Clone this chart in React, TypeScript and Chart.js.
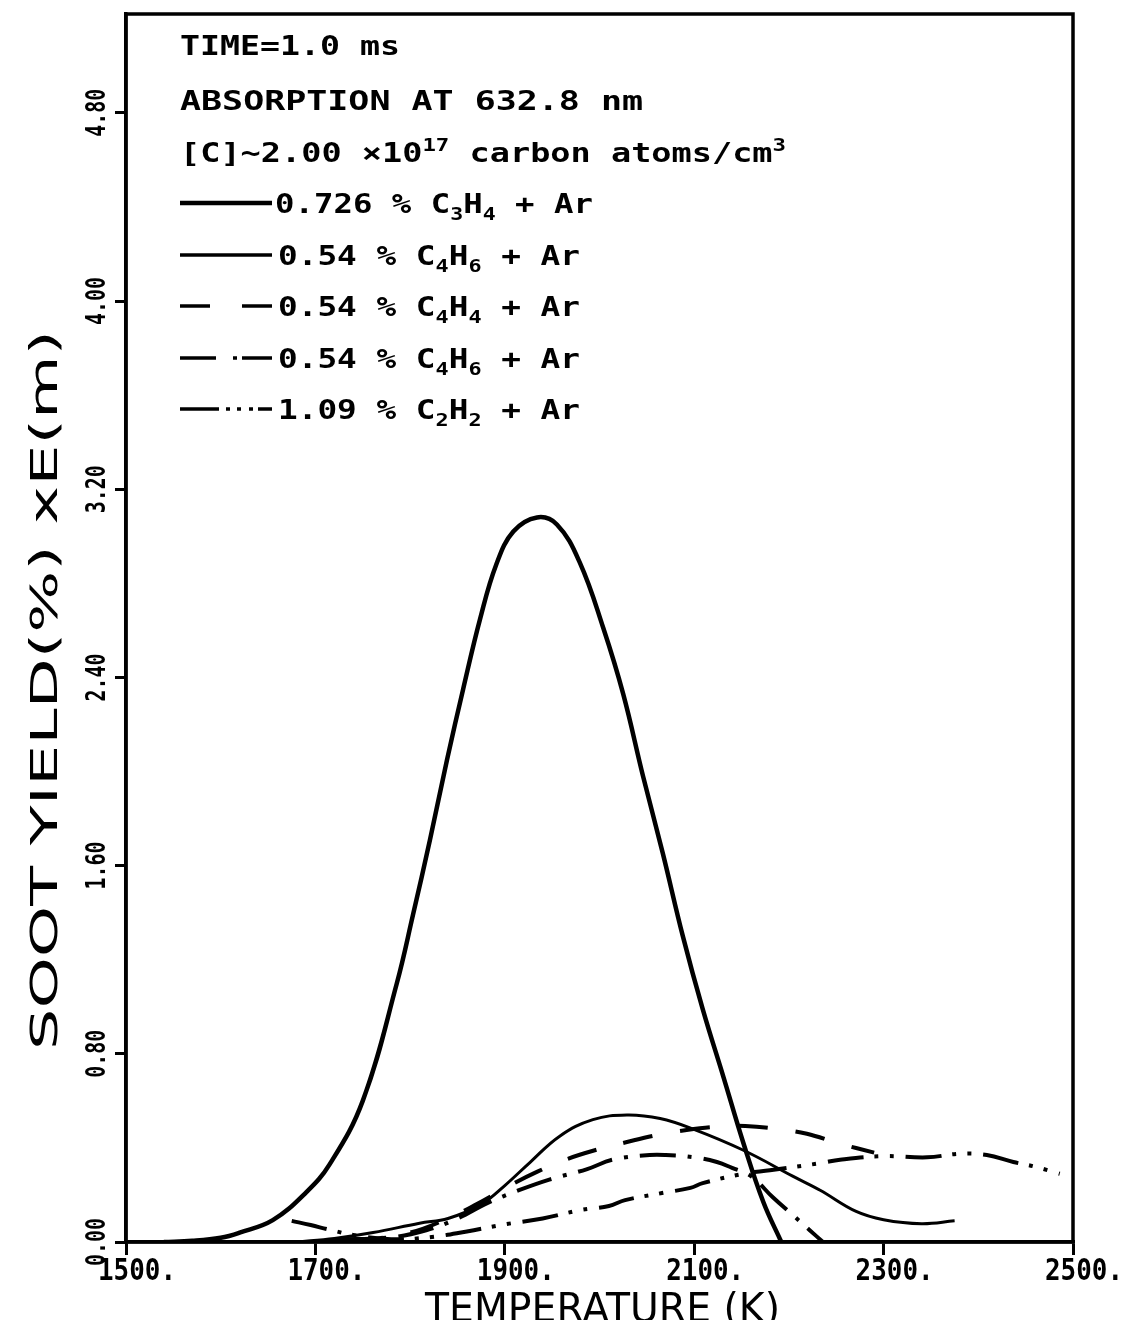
import React, { useEffect, useRef } from "react";
import { Chart, registerables } from "chart.js";

Chart.register(...registerables);

// ---------- axes ----------
const X_TICKS = [1500, 1700, 1900, 2100, 2300, 2500];
const X_TICK_LABELS = ["1500.", "1700.", "1900.", "2100.", "2300.", "2500."];
const Y_TICKS = [0, 0.8, 1.6, 2.4, 3.2, 4.0, 4.8];
const Y_TICK_LABELS = ["0.00", "0.80", "1.60", "2.40", "3.20", "4.00", "4.80"];
const X_MIN = 1500;
const X_MAX = 2500;
const Y_MIN = 0;
const Y_MAX = 5.22;
const X_TITLE = "TEMPERATURE (K)";
const Y_TITLE = "SOOT YIELD(%) xE(m)";

// ---------- legend text ----------
const HEADER_LINES = ["TIME=1.0 ms", "ABSORPTION AT 632.8 nm", "[C]~2.00 ×10^17 carbon atoms/cm^3"];
const SERIES_LABELS = [
  "0.726 % C_3H_4 + Ar",
  "0.54 % C_4H_6 + Ar",
  "0.54 % C_4H_4 + Ar",
  "0.54 % C_4H_6 + Ar",
  "1.09 % C_2H_2 + Ar",
];

// ---------- data (temperature K, soot yield) ----------
const C3H4_T = [1540, 1570, 1600, 1620, 1655, 1690, 1715, 1750, 1786, 1803, 1821, 1839, 1856, 1874, 1891, 1909, 1934, 1955, 1979, 2004, 2025, 2046, 2067, 2088, 2109, 2131, 2152, 2173, 2192];
const C3H4_V = [0, 0.005, 0.018, 0.04, 0.093, 0.21, 0.33, 0.60, 1.10, 1.39, 1.71, 2.05, 2.35, 2.65, 2.88, 3.02, 3.08, 3.05, 2.89, 2.61, 2.33, 1.98, 1.65, 1.30, 0.99, 0.70, 0.42, 0.17, 0];

const C4H6A_T = [1680, 1720, 1761, 1810, 1840, 1875, 1900, 1927, 1958, 1993, 2029, 2064, 2099, 2152, 2204, 2233, 2271, 2300, 2340, 2375];
const C4H6A_V = [0, 0.015, 0.04, 0.08, 0.10, 0.16, 0.24, 0.34, 0.45, 0.52, 0.54, 0.525, 0.48, 0.39, 0.28, 0.22, 0.13, 0.095, 0.078, 0.09];

const C4H4_T = [1740, 1800, 1840, 1870, 1910, 1935, 1964, 1995, 2029, 2061, 2092, 2124, 2154, 2189, 2219, 2252, 2290];
const C4H4_V = [0, 0.04, 0.10, 0.16, 0.25, 0.30, 0.35, 0.39, 0.425, 0.455, 0.476, 0.49, 0.493, 0.48, 0.46, 0.42, 0.38];

const C4H6B_T = [1720, 1780, 1817, 1850, 1882, 1915, 1947, 1987, 2014, 2053, 2070, 2100, 2124, 2140, 2160, 2183, 2204, 2222, 2236];
const C4H6B_V = [0.01, 0.02, 0.05, 0.10, 0.166, 0.22, 0.265, 0.31, 0.35, 0.37, 0.37, 0.36, 0.34, 0.315, 0.28, 0.19, 0.115, 0.05, 0];

const C2H2_T = [1675, 1695, 1715, 1740, 1780, 1820, 1860, 1900, 1940, 1979, 2010, 2027, 2066, 2096, 2109, 2152, 2180, 2233, 2254, 2300, 2346, 2380, 2409, 2437, 2460, 2486];
const C2H2_V = [0.09, 0.072, 0.052, 0.03, 0.012, 0.02, 0.045, 0.075, 0.10, 0.135, 0.153, 0.178, 0.208, 0.23, 0.25, 0.29, 0.305, 0.335, 0.35, 0.365, 0.36, 0.375, 0.37, 0.34, 0.32, 0.29];

const SERIES = [
  { t: C3H4_T, v: C3H4_V, width: 4.5, dash: [] as number[] },
  { t: C4H6A_T, v: C4H6A_V, width: 3, dash: [] as number[] },
  { t: C4H4_T, v: C4H4_V, width: 4, dash: [30, 28] },
  { t: C4H6B_T, v: C4H6B_V, width: 4, dash: [36, 12, 4, 12] },
  { t: C2H2_T, v: C2H2_V, width: 4, dash: [36, 11, 4, 11, 4, 12] },
];

type Seg = { t: string; k: "n" | "sub" | "sup" };

function parseRich(s: string): Seg[] {
  const out: Seg[] = [];
  const re = /(_\d+|\^\d+|[^_^]+)/g;
  let m: RegExpExecArray | null;
  while ((m = re.exec(s))) {
    const p = m[0];
    if (p[0] === "_") out.push({ t: p.slice(1), k: "sub" });
    else if (p[0] === "^") out.push({ t: p.slice(1), k: "sup" });
    else out.push({ t: p, k: "n" });
  }
  return out;
}

// draws text starting at x (left), vertically centred on cap height, stretched to targetW
function drawFitted(
  ctx: CanvasRenderingContext2D,
  text: string,
  x: number,
  yCenter: number,
  targetW: number,
  fontPx: number,
  family: string,
  weight: string
) {
  const segs = parseRich(text);
  const fontOf = (k: string) => `${weight} ${k === "n" ? fontPx : Math.round(fontPx * 0.68)}px ${family}`;
  let total = 0;
  const widths: number[] = [];
  for (const s of segs) {
    ctx.font = fontOf(s.k);
    const w = ctx.measureText(s.t).width;
    widths.push(w);
    total += w;
  }
  const sc = targetW / total;
  const base = fontPx * 0.365;
  ctx.save();
  ctx.translate(x, yCenter);
  ctx.scale(sc, 1);
  ctx.textAlign = "left";
  ctx.textBaseline = "alphabetic";
  ctx.fillStyle = "#000";
  let cx = 0;
  segs.forEach((s, i) => {
    ctx.font = fontOf(s.k);
    let y = base;
    if (s.k === "sub") y = base + fontPx * 0.25;
    if (s.k === "sup") y = base - fontPx * 0.42;
    ctx.fillText(s.t, cx, y);
    cx += widths[i];
  });
  ctx.restore();
}

const MONO = '"DejaVu Sans Mono", monospace';
const SANS = '"DejaVu Sans", sans-serif';

const decorPlugin = {
  id: "decor",
  afterDraw(chart: any) {
    const ctx: CanvasRenderingContext2D = chart.ctx;
    const a = chart.chartArea;
    const xs = chart.scales.x;
    const ys = chart.scales.y;
    ctx.save();
    // frame
    ctx.strokeStyle = "#000";
    ctx.lineWidth = 3.5;
    ctx.strokeRect(a.left, a.top, a.right - a.left, a.bottom - a.top);

    // x tick labels
    X_TICKS.forEach((v, i) => {
      const px = xs.getPixelForValue(v);
      drawFitted(ctx, X_TICK_LABELS[i], px - 28, a.bottom + 27, 78, 30, MONO, "bold");
    });

    // y tick labels (rotated)
    Y_TICKS.forEach((v, i) => {
      const py = ys.getPixelForValue(v);
      ctx.save();
      ctx.translate(a.left - 30, py);
      ctx.rotate(-Math.PI / 2);
      drawFitted(ctx, Y_TICK_LABELS[i], -24, 0, 48, 26, MONO, "bold");
      ctx.restore();
    });

    // y title
    ctx.save();
    ctx.translate(35, 682);
    ctx.rotate(-Math.PI / 2);
    drawFitted(ctx, Y_TITLE, -360, 0, 720, 37, SANS, "normal");
    ctx.restore();

    // x title
    drawFitted(ctx, X_TITLE, 417, 1299, 355, 41, SANS, "normal");

    // legend header
    const hx = a.left + 54;
    const headerY = [37, 92, 144];
    const headerW = [220, 463, 606];
    HEADER_LINES.forEach((t, i) => drawFitted(ctx, t, hx, headerY[i], headerW[i], 27, MONO, "bold"));

    // legend rows
    const rowY = [195, 247, 298, 350, 401];
    const rowX = [hx + 95, hx + 98, hx + 98, hx + 98, hx + 98];
    const rowW = [318, 302, 302, 302, 302];
    const sx0 = hx;
    const sx1 = hx + 92;
    const samples: number[][][] = [
      [[sx0, sx1]],
      [[sx0, sx1]],
      [[sx0, sx0 + 30], [sx0 + 62, sx1]],
      [[sx0, sx0 + 36], [sx0 + 53, sx0 + 57], [sx0 + 62, sx1]],
      [[sx0, sx0 + 39], [sx0 + 46, sx0 + 50], [sx0 + 57, sx0 + 61], [sx0 + 69, sx0 + 73], [sx0 + 78, sx1]],
    ];
    SERIES_LABELS.forEach((t, i) => {
      const y = rowY[i];
      ctx.strokeStyle = "#000";
      ctx.lineWidth = i === 0 ? 4.5 : 3.5;
      ctx.setLineDash([]);
      samples[i].forEach(([p, q]) => {
        ctx.beginPath();
        ctx.moveTo(p, y);
        ctx.lineTo(q, y);
        ctx.stroke();
      });
      drawFitted(ctx, t, rowX[i], y, rowW[i], 27, MONO, "bold");
    });
    ctx.restore();
  },
};

export default function App() {
  const ref = useRef<HTMLCanvasElement | null>(null);
  useEffect(() => {
    if (!ref.current) return;
    const datasets = SERIES.map((s, i) => ({
      label: SERIES_LABELS[i],
      data: s.t.map((t, j) => ({ x: t, y: s.v[j] })),
      borderColor: "#000",
      backgroundColor: "#000",
      borderWidth: s.width,
      borderDash: s.dash,
      borderJoinStyle: "round" as const,
      pointRadius: 0,
      fill: false,
      tension: 0.4,
    }));
    const chart = new Chart(ref.current, {
      type: "line",
      data: { datasets },
      plugins: [decorPlugin],
      options: {
        animation: false,
        responsive: false,
        devicePixelRatio: 1,
        layout: { padding: { left: 0, right: 46, top: 6, bottom: 0 } },
        plugins: { legend: { display: false }, tooltip: { enabled: false } },
        elements: { line: { capBezierPoints: true } },
        scales: {
          x: {
            type: "linear",
            min: X_MIN,
            max: X_MAX,
            afterBuildTicks: (s: any) => {
              s.ticks = X_TICKS.map((v) => ({ value: v }));
            },
            afterFit: (s: any) => {
              s.height = 78;
            },
            ticks: { display: false },
            grid: { drawOnChartArea: false, drawTicks: true, tickLength: 13, color: "#000", lineWidth: 3 },
            border: { display: true, color: "#000", width: 3.5 },
          },
          y: {
            type: "linear",
            min: Y_MIN,
            max: Y_MAX,
            afterBuildTicks: (s: any) => {
              s.ticks = Y_TICKS.map((v) => ({ value: v }));
            },
            afterFit: (s: any) => {
              s.width = 118;
            },
            ticks: { display: false },
            grid: { drawOnChartArea: false, drawTicks: true, tickLength: 11, color: "#000", lineWidth: 3 },
            border: { display: true, color: "#000", width: 3.5 },
          },
        },
      } as any,
    });
    return () => chart.destroy();
  }, []);
  return (
    <canvas ref={ref} width={1111} height={1312} style={{ display: "block", width: 1111, height: 1312 }} />
  );
}
